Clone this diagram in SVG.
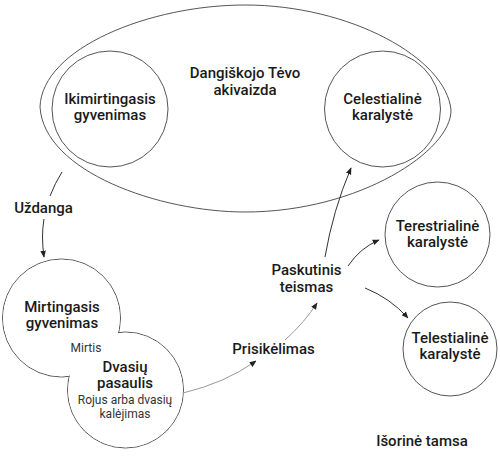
<svg xmlns="http://www.w3.org/2000/svg" width="500" height="467" viewBox="0 0 500 467">
<defs>
<style>
.ring{fill:#fff;stroke:#555;stroke-width:1}
.mask{fill:#fff;stroke:none}
.b{font-family:Roboto,"Liberation Sans",sans-serif;font-weight:500;font-size:15px;fill:#1a1a1a;text-anchor:middle}
.r{font-family:Roboto,"Liberation Sans",sans-serif;font-weight:400;font-size:12px;fill:#333;text-anchor:middle}
.arr{fill:none;stroke:#333;stroke-width:1}
.arrg{fill:none;stroke:#999;stroke-width:1}
</style>
<marker id="ah" viewBox="0 0 10 10" refX="9" refY="5" markerWidth="7" markerHeight="7" orient="auto" markerUnits="userSpaceOnUse">
<path d="M0,1 L10,5 L0,9 Z" fill="#222"/>
</marker>
</defs>
<rect width="500" height="467" fill="#fff"/>
<g id="presence">
<path d="M 40,107 C 42,48 150,5 245,5 C 350,5 446,58 451,110 C 452,150 360,212 245,212 C 160,212 44,172 40,107 Z" fill="none" stroke="#555" stroke-width="1"/>
<text class="b" x="245" y="78">Dangiškojo Tėvo</text>
<text class="b" x="245" y="95">akivaizda</text>
</g>
<g id="premortal">
<circle class="ring" cx="110" cy="109" r="58"/>
<text class="b" x="110" y="104">Ikimirtingasis</text>
<text class="b" x="110" y="120">gyvenimas</text>
</g>
<g id="celestial">
<circle class="ring" cx="382.5" cy="109" r="58"/>
<text class="b" x="382.5" y="104">Celestialinė</text>
<text class="b" x="382.5" y="120">karalystė</text>
</g>
<g id="terrestrial">
<circle class="ring" cx="437.5" cy="234.5" r="52.5"/>
<text class="b" x="437.5" y="231">Terestrialinė</text>
<text class="b" x="437.5" y="247">karalystė</text>
</g>
<g id="telestial">
<circle class="ring" cx="450" cy="349" r="47"/>
<text class="b" x="450" y="343">Telestialinė</text>
<text class="b" x="450" y="359">karalystė</text>
</g>
<g id="mortal-spirit">
<circle class="ring" cx="61.5" cy="318" r="59"/>
<circle class="ring" cx="125.5" cy="390" r="58"/>
<circle class="mask" cx="61.5" cy="318" r="58.3"/>
<circle class="mask" cx="125.5" cy="390" r="57.3"/>
<g id="mortal">
<text class="b" x="62" y="312">Mirtingasis</text>
<text class="b" x="62" y="328">gyvenimas</text>
</g>
<text class="r" x="86" y="352" fill="#444">Mirtis</text>
<g id="spirit">
<text class="b" x="125" y="372">Dvasių</text>
<text class="b" x="125" y="388">pasaulis</text>
<text class="r" x="125" y="404">Rojus arba dvasių</text>
<text class="r" x="125" y="418">kalėjimas</text>
</g>
</g>
<g id="judgment">
<text class="b" x="306.5" y="275">Paskutinis</text>
<text class="b" x="306.5" y="292">teismas</text>
</g>
<text class="b" x="43.5" y="213">Uždanga</text>
<text class="b" x="273.5" y="354">Prisikėlimas</text>
<text class="b" x="422" y="446">Išorinė tamsa</text>
<g id="connectors">
<path class="arr" d="M 62,172 Q 55,183 50,196"/>
<path class="arr" d="M 44,219 Q 41,236 44,257" marker-end="url(#ah)"/>
<path class="arrg" d="M 183,393 Q 225,383 256,361" marker-end="url(#ah)"/>
<path class="arrg" d="M 285,340 Q 305,322 317,303" marker-end="url(#ah)"/>
<path class="arr" d="M 325,257 Q 333,210 351,168" marker-end="url(#ah)"/>
<path class="arr" d="M 348,266 Q 360,248 379,240" marker-end="url(#ah)"/>
<path class="arr" d="M 365,288 Q 390,298 408,318" marker-end="url(#ah)"/>
</g>
</svg>
